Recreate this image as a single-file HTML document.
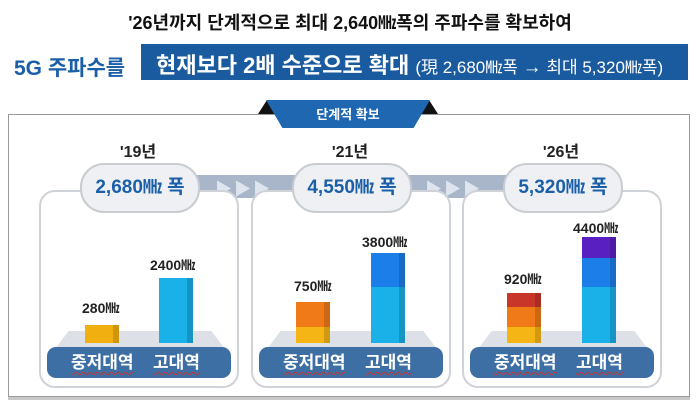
<!DOCTYPE html><html><head><meta charset="utf-8"><style>
body{margin:0;width:700px;height:403px;background:#fff;position:relative;overflow:hidden;font-family:"Liberation Sans","Noto Sans CJK KR",sans-serif}
.a{position:absolute}
.t{position:absolute;white-space:nowrap;text-align:center}
.panel{position:absolute;top:190px;width:196px;height:194px;border:2px solid #cfd3d8;border-radius:16px;background:#fff}
.pill{position:absolute;top:163px;width:116px;height:46px;border:2px solid #c9ccd1;border-radius:24px;background:#eef0f3;color:#1a5fa8;font-weight:bold;font-size:19px;line-height:46px;text-align:center}
.yr{position:absolute;top:138px;width:116px;text-align:center;font-size:16px;font-weight:bold;color:#222}
.floor{position:absolute;top:331px;height:18px;background:#dde0e6;clip-path:polygon(8% 0,92% 0,100% 100%,0 100%)}
.base{position:absolute;top:347px;height:31px;border-radius:9px;background:#3d6fa4;color:#fff;font-size:17px;font-weight:bold;line-height:31px}
.base span{position:absolute;text-decoration:underline wavy #c33;text-underline-offset:3px;text-decoration-thickness:1px}
.bar{position:absolute;width:34px;box-shadow:inset -6px 0 0 rgba(0,0,0,.15)}
.lb{position:absolute;font-size:14px;color:#222;font-weight:bold;white-space:nowrap}
</style></head><body>
<div class="t" style="left:0;width:700px;top:9px;font-size:18px;font-weight:bold;color:#111">'26년까지 단계적으로 최대 2,640㎒폭의 주파수를 확보하여</div>
<div class="t" style="left:14px;top:52px;font-size:21px;font-weight:bold;color:#1a5fa8">5G 주파수를</div>
<div class="a" style="left:141px;top:44px;width:547px;height:36px;background:#1a5b9f"></div>
<div class="t" style="left:156px;top:48px;font-size:22px;font-weight:bold;color:#fff">현재보다 2배 수준으로 확대 <span style="font-size:17px;font-weight:normal">(現 2,680㎒폭 <span style="font-size:19px">→</span> 최대 5,320㎒폭)</span></div>
<div class="a" style="left:8px;top:114px;width:680px;height:281px;border:1px solid #9a9a9a;box-shadow:0 3px 0 #c8c8c8"></div>
<div class="a" style="left:258px;top:100px;width:180px;height:14px;background:#111;clip-path:polygon(0 100%,5% 0,95% 0,100% 100%)"></div>
<div class="a" style="left:266px;top:100px;width:164px;height:28px;background:#1f67b1;clip-path:polygon(0 0,100% 0,90% 100%,10% 100%)"></div>
<div class="t" style="left:266px;width:164px;top:104px;font-size:13px;font-weight:bold;color:#fff">단계적 확보</div>
<div class="a" style="left:190px;top:175px;width:320px;height:23px;background:#a9b6c9"></div>
<div class="t" style="left:215px;top:175px;font-size:17px;color:#dfe5ee;letter-spacing:2px">▶▶▶</div>
<div class="t" style="left:425px;top:175px;font-size:17px;color:#dfe5ee;letter-spacing:2px">▶▶▶</div>
<div class="panel" style="left:39px"></div><div class="panel" style="left:251px"></div><div class="panel" style="left:462px"></div>
<div class="yr" style="left:80px">'19년</div><div class="yr" style="left:292px">'21년</div><div class="yr" style="left:503px">'26년</div>
<div class="pill" style="left:80px">2,680㎒ 폭</div><div class="pill" style="left:292px">4,550㎒ 폭</div><div class="pill" style="left:503px">5,320㎒ 폭</div>
<div class="floor" style="left:55px;width:170px"></div><div class="floor" style="left:267px;width:170px"></div><div class="floor" style="left:478px;width:170px"></div>
<div class="base" style="left:47px;width:184px"><span style="left:24px">중저대역</span><span style="left:106px">고대역</span></div>
<div class="base" style="left:259px;width:184px"><span style="left:24px">중저대역</span><span style="left:106px">고대역</span></div>
<div class="base" style="left:470px;width:184px"><span style="left:24px">중저대역</span><span style="left:106px">고대역</span></div>
<div class="bar" style="left:85px;top:325px;height:18px;background:#f2b010"></div>
<div class="bar" style="left:159px;top:278px;height:65px;background:#1ab0e8"></div>
<div class="lb" style="left:82px;top:298px">280㎒</div>
<div class="lb" style="left:150px;top:255px">2400㎒</div>
<div class="bar" style="left:296px;top:302px;height:25px;background:#f07a18"></div>
<div class="bar" style="left:296px;top:327px;height:16px;background:#f5b515"></div>
<div class="bar" style="left:371px;top:253px;height:34px;background:#1c7ee8"></div>
<div class="bar" style="left:371px;top:287px;height:56px;background:#1ab0e8"></div>
<div class="lb" style="left:294px;top:276px">750㎒</div>
<div class="lb" style="left:362px;top:232px">3800㎒</div>
<div class="bar" style="left:507px;top:293px;height:14px;background:#c8362a"></div>
<div class="bar" style="left:507px;top:307px;height:20px;background:#f07a18"></div>
<div class="bar" style="left:507px;top:327px;height:16px;background:#f5b515"></div>
<div class="bar" style="left:582px;top:237px;height:21px;background:#5a1fc0"></div>
<div class="bar" style="left:582px;top:258px;height:29px;background:#1c7ee8"></div>
<div class="bar" style="left:582px;top:287px;height:56px;background:#1ab0e8"></div>
<div class="lb" style="left:504px;top:269px">920㎒</div>
<div class="lb" style="left:573px;top:218px">4400㎒</div>
</body></html>
